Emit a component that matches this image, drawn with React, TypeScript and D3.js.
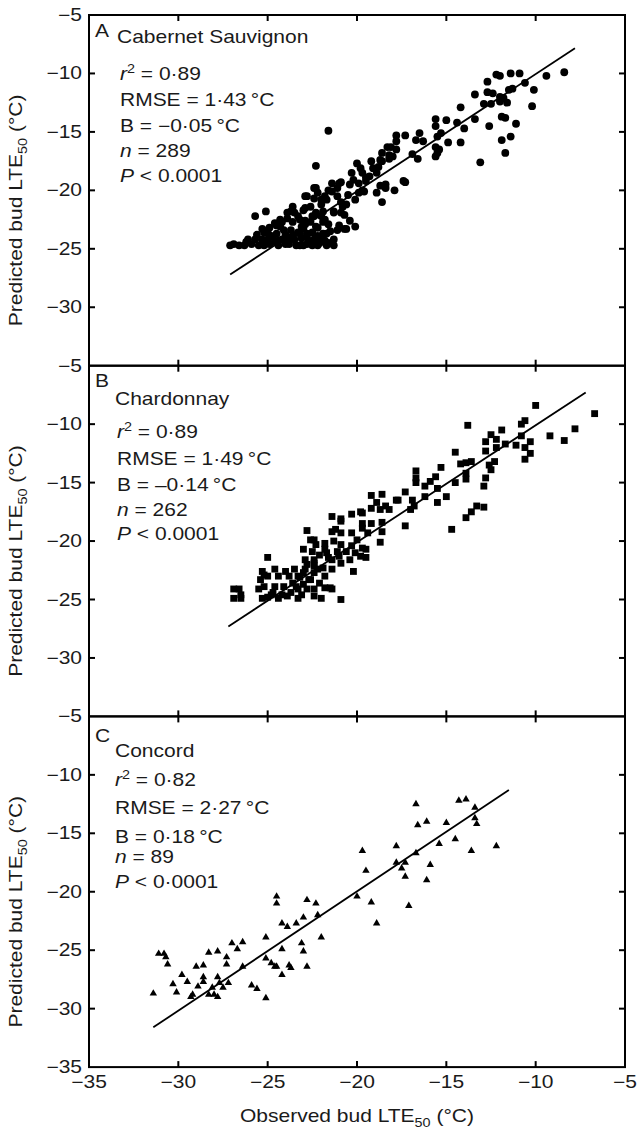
import React from "react";
import * as d3 from "d3";

const cabernetPoints: [number, number][] = [
  [-21.6, -14.9], [-22.3, -17.9], [-22.3, -19.8], [-8.4, -9.9], [-9.4, -10.2], [-10.9, -10.0], [-11.4, -10.0],
  [-12.0, -10.2], [-12.2, -10.1], [-12.7, -10.7], [-10.6, -10.8], [-10.1, -11.4], [-11.3, -11.3], [-11.5, -11.4],
  [-12.7, -11.6], [-12.4, -11.7], [-13.4, -11.8], [-12.0, -12.0], [-11.8, -12.1], [-12.0, -12.4], [-11.6, -12.5],
  [-12.9, -12.6], [-12.5, -12.6], [-10.2, -12.8], [-14.2, -12.9], [-11.9, -13.7], [-11.7, -13.8], [-13.4, -13.9],
  [-11.1, -14.3], [-12.6, -14.5], [-15.6, -13.9], [-15.0, -14.0], [-14.4, -14.2], [-15.6, -14.5], [-14.0, -14.7],
  [-15.5, -15.4], [-15.3, -15.1], [-14.9, -15.9], [-14.2, -15.9], [-11.4, -15.4], [-11.9, -15.7], [-11.7, -16.8],
  [-13.1, -17.6], [-17.8, -15.3], [-17.3, -15.3], [-16.5, -15.1], [-16.7, -15.7], [-16.3, -15.8], [-15.6, -16.3],
  [-15.5, -16.8], [-15.4, -16.5], [-15.6, -17.1], [-17.8, -15.8], [-18.3, -16.3], [-17.8, -16.5], [-18.6, -16.8],
  [-18.0, -17.1], [-16.9, -16.9], [-16.6, -17.3], [-18.6, -17.5], [-18.2, -17.3], [-19.2, -17.5], [-18.8, -18.0],
  [-19.1, -18.1], [-20.0, -17.7], [-19.8, -18.1], [-19.3, -18.8], [-20.3, -18.5], [-19.7, -18.5], [-20.2, -19.1],
  [-20.9, -19.3], [-21.1, -19.8], [-20.4, -19.5], [-19.5, -19.2], [-18.7, -19.6], [-18.4, -19.8], [-18.9, -20.2],
  [-17.9, -20.0], [-17.3, -19.3], [-18.6, -21.0], [-19.6, -20.1], [-19.9, -20.2], [-20.5, -20.4], [-20.1, -20.8],
  [-20.8, -21.4], [-21.4, -20.1], [-21.7, -20.8], [-21.8, -20.5], [-22.2, -20.2], [-22.4, -20.7], [-22.8, -20.5],
  [-22.6, -21.4], [-22.0, -21.2], [-21.3, -21.9], [-20.9, -21.9], [-22.3, -21.9], [-22.9, -21.5], [-22.5, -22.2],
  [-21.9, -22.7], [-21.1, -23.4], [-20.6, -23.3], [-20.1, -23.1], [-21.7, -23.7], [-22.3, -23.1], [-22.4, -24.2],
  [-22.1, -24.5], [-21.6, -24.5], [-23.0, -24.7], [-22.8, -23.7], [-23.2, -22.5], [-23.2, -23.7],
  [-25.7, -22.2], [-25.1, -21.8], [-26.9, -24.6], [-27.1, -24.7], [-26.1, -24.2], [-25.7, -24.2], [-25.3, -23.3],
  [-25.3, -24.2], [-25.0, -24.2], [-24.6, -24.4], [-24.3, -23.1], [-24.5, -23.7], [-24.2, -24.2], [-24.0, -24.6],
  [-23.9, -22.4], [-23.7, -23.4], [-23.5, -21.9], [-23.5, -24.2], [-23.2, -24.7], [-23.0, -21.7], [-22.9, -20.5],
  [-23.1, -23.1], [-22.8, -23.9], [-22.5, -24.7], [-22.4, -22.2], [-22.4, -19.8], [-22.2, -23.2], [-22.0, -24.2],
  [-21.7, -24.7], [-21.8, -22.5], [-22.0, -20.8], [-21.6, -20.0], [-21.3, -21.8], [-21.5, -23.5], [-20.7, -23.3],
  [-20.7, -22.1], [-21.4, -19.4], [-21.0, -19.4], [-21.1, -20.5], [-20.9, -21.0], [-20.6, -21.2], [-19.9, -19.4],
  [-19.7, -20.0], [-19.5, -18.9], [-18.9, -18.5], [-18.7, -17.4], [-18.4, -19.5], [-18.2, -17.0], [-18.1, -16.3],
  [-17.4, -19.2],
  [-26.6, -24.7], [-26.3, -24.7], [-25.9, -24.6], [-25.5, -24.7], [-25.2, -24.7], [-24.9, -24.6], [-24.4, -24.7],
  [-23.8, -24.6], [-23.4, -24.7], [-22.8, -24.6], [-22.2, -24.7], [-21.3, -24.7], [-25.2, -23.6], [-24.8, -23.9],
  [-24.0, -23.8], [-23.8, -24.1], [-23.3, -23.6], [-23.1, -24.1], [-22.5, -23.6], [-21.9, -23.7], [-21.3, -24.2],
  [-22.6, -22.7], [-21.9, -21.8], [-23.6, -22.7], [-24.2, -22.7], [-24.9, -23.2], [-24.5, -23.0], [-26.2, -24.4],
  [-24.3, -22.5], [-23.9, -21.9], [-23.6, -21.4],
  [-25.6, -23.8], [-24.7, -24.0], [-24.1, -23.4], [-23.6, -23.9], [-23.0, -23.3], [-22.7, -24.3], [-22.2, -23.9],
  [-21.8, -24.3], [-23.9, -24.3], [-24.6, -22.8], [-23.3, -22.2], [-22.9, -22.6], [-22.0, -22.2], [-21.6, -22.9],
  [-23.7, -21.8], [-22.9, -22.9], [-24.4, -24.3], [-25.0, -23.6], [-21.0, -23.0], [-20.4, -22.6],
];

const chardonnayPoints: [number, number][] = [
  [-10.0, -8.4], [-6.7, -9.1], [-7.8, -10.4], [-8.4, -11.4], [-9.2, -11.0], [-10.6, -9.7], [-10.8, -10.0],
  [-10.8, -11.0], [-10.3, -11.5], [-10.6, -12.0], [-10.3, -12.5], [-10.6, -13.0], [-11.1, -11.8], [-11.7, -11.7],
  [-11.9, -10.5], [-12.5, -10.9], [-12.8, -11.5], [-12.2, -11.3], [-12.2, -12.0], [-12.8, -12.3], [-12.3, -13.2],
  [-12.6, -13.5], [-12.5, -13.9], [-12.8, -14.6], [-12.9, -15.3], [-13.8, -10.1], [-14.5, -12.4], [-13.9, -13.3],
  [-14.2, -13.4], [-13.6, -13.2], [-13.9, -14.2], [-13.9, -14.7], [-14.5, -15.0], [-15.3, -13.7], [-16.7, -14.0],
  [-16.7, -14.6], [-16.7, -15.0], [-15.6, -14.5], [-15.9, -14.9], [-16.2, -15.3], [-15.5, -15.5], [-16.2, -16.2],
  [-15.0, -16.2], [-15.5, -16.7], [-17.3, -15.8], [-17.7, -16.5], [-16.9, -16.5], [-17.0, -17.3], [-16.8, -17.0],
  [-17.3, -18.7], [-14.7, -19.0], [-12.9, -17.1], [-13.3, -17.0], [-13.6, -17.5], [-13.9, -18.0],
  [-19.2, -16.1], [-18.6, -16.0], [-17.8, -16.5], [-18.9, -16.7], [-19.7, -17.6], [-19.2, -17.2], [-20.3, -17.7],
  [-18.7, -17.3], [-18.2, -17.3], [-19.7, -18.5], [-19.2, -18.5], [-18.6, -18.4], [-21.4, -17.9], [-20.9, -18.3],
  [-21.4, -19.2], [-20.9, -19.3], [-20.3, -19.3], [-20.0, -19.9], [-19.4, -19.3], [-18.6, -19.2], [-18.7, -20.1],
  [-22.8, -19.1], [-22.6, -19.9], [-22.3, -20.3], [-21.8, -20.2], [-21.3, -20.0], [-20.9, -20.3], [-20.3, -20.4],
  [-19.7, -20.6], [-19.5, -20.7], [-20.6, -20.9], [-21.1, -20.9], [-21.7, -21.0], [-22.1, -21.2], [-23.0, -20.7],
  [-19.8, -21.3], [-19.5, -21.4], [-20.4, -21.6], [-20.9, -21.9], [-21.4, -21.6], [-20.2, -22.6], [-22.4, -21.9],
  [-22.8, -22.0], [-21.9, -22.3], [-21.4, -22.4], [-22.4, -22.7], [-23.0, -22.7], [-21.8, -23.0], [-22.6, -23.3],
  [-22.1, -23.6], [-23.2, -23.1], [-21.5, -24.0], [-22.4, -24.1], [-22.8, -24.1], [-22.0, -24.9], [-22.4, -24.7],
  [-20.9, -25.0],
  [-19.8, -17.5], [-18.4, -17.0], [-20.9, -18.1], [-21.2, -19.0], [-19.7, -18.9], [-22.4, -19.9], [-22.5, -20.9],
  [-21.8, -20.7], [-21.6, -21.4], [-21.0, -21.3], [-20.1, -21.0], [-25.0, -21.4], [-22.9, -21.6], [-22.4, -21.6],
  [-22.9, -22.4], [-22.2, -22.4], [-23.5, -22.4], [-24.0, -22.6], [-24.6, -22.4], [-25.3, -22.6], [-25.4, -23.3],
  [-25.0, -23.0], [-24.4, -23.0], [-23.8, -23.0], [-23.3, -23.0], [-22.7, -23.3], [-25.2, -23.9], [-24.6, -23.9],
  [-24.1, -23.9], [-23.6, -23.6], [-23.0, -23.7], [-21.8, -24.0], [-25.5, -24.1], [-24.8, -24.6], [-24.2, -24.6],
  [-23.7, -24.4], [-23.1, -24.6], [-25.3, -24.9], [-25.0, -24.8], [-24.4, -24.9], [-23.3, -24.9], [-26.9, -24.1],
  [-26.5, -24.6], [-26.9, -24.9], [-21.4, -24.1], [-23.3, -24.1], [-26.6, -24.1], [-26.5, -24.9], [-25.2, -22.9],
  [-24.7, -24.4], [-23.9, -24.7], [-23.4, -23.9], [-22.4, -22.1],
];

const concordPoints: [number, number][] = [
  [-31.4, -28.7], [-31.1, -25.3], [-30.8, -25.3], [-30.7, -25.6], [-30.6, -26.2], [-30.3, -27.9], [-30.1, -28.6],
  [-29.8, -27.1], [-29.5, -27.7], [-29.3, -29.0], [-29.2, -28.8], [-29.0, -26.4], [-28.9, -28.1], [-28.6, -26.3],
  [-28.6, -27.3], [-28.6, -27.7], [-28.3, -25.2], [-28.3, -28.8], [-28.1, -28.2], [-28.0, -28.8], [-27.8, -27.3],
  [-27.8, -25.1], [-27.8, -29.0], [-27.7, -27.8], [-27.5, -28.2], [-27.3, -25.6], [-27.3, -26.2], [-27.2, -27.8],
  [-27.0, -24.4], [-26.7, -24.9], [-26.4, -24.3], [-26.4, -26.4], [-25.9, -28.0], [-25.6, -28.3], [-25.1, -23.9],
  [-25.1, -25.7], [-25.1, -29.1], [-24.8, -26.1], [-24.6, -26.4], [-24.5, -20.4], [-24.5, -21.0], [-24.5, -26.4],
  [-24.2, -24.9], [-24.2, -27.1], [-24.2, -22.7], [-23.9, -23.0], [-23.8, -26.3], [-23.7, -26.5], [-23.4, -22.7],
  [-23.1, -24.4], [-23.0, -22.2], [-23.0, -25.1], [-22.8, -26.4], [-22.8, -20.7], [-22.3, -21.0], [-22.2, -22.0],
  [-22.0, -23.9],
  [-20.0, -20.4], [-19.7, -16.5], [-19.5, -18.2], [-19.2, -20.9], [-18.9, -22.7], [-17.8, -16.1], [-17.8, -17.5],
  [-17.5, -18.0], [-17.3, -17.5], [-17.3, -18.7], [-17.1, -21.2], [-16.7, -12.5], [-16.7, -16.7], [-16.6, -14.3],
  [-16.1, -14.0], [-16.1, -19.0], [-15.9, -17.7], [-15.4, -15.9], [-15.0, -14.1], [-14.5, -15.5], [-14.3, -12.2],
  [-13.9, -12.1], [-13.6, -16.5], [-13.4, -12.8], [-13.4, -13.7], [-13.3, -14.2], [-12.2, -16.1],
];

// fitted line end points [x0, x1], [y0, y1]
const fitX: [number, number][] = [[-27.1, -7.8], [-27.2, -7.2], [-31.4, -11.5]];
const fitY: [number, number][] = [[-27.2, -7.85], [-27.3, -7.3], [-31.6, -11.3]];

const panelLetters = ["A", "B", "C"];
const cultivars = ["Cabernet Sauvignon", "Chardonnay", "Concord"];
const r2Text = ["0·89", "0·89", "0·82"];
const rmseText = ["1·43", "1·49", "2·27"];
const biasText = ["\u22120·05", "\u20130·14", "0·18"];
const nText = ["289", "262", "89"];
const pText = ["0.0001", "0.0001", "0·0001"];

const axisTicks = [-35, -30, -25, -20, -15, -10, -5];
const innerTicks = [-30, -25, -20, -15, -10];

const W = 638;
const H = 1130;
const left = 89;
const right = 625;
const top = 15;
const panelH = 350.7;
const FONT = "'Liberation Sans', Arial, Helvetica, sans-serif";
const FS = 17.5;
const SX = 1.2; // glyphs in the figure run wider than Arial
const TICK = 6;

const fmt = (v: number) => (v < 0 ? "\u2212" + Math.abs(v) : String(v));

function T({ x, y, anchor = "start", rotate = false, children }: any) {
  return (
    <g transform={`translate(${x},${y})${rotate ? " rotate(-90)" : ""} scale(${SX},1)`}>
      <text textAnchor={anchor} fontFamily={FONT} fontSize={FS} fill="#1a1a1a">
        {children}
      </text>
    </g>
  );
}

const pointSets = [cabernetPoints, chardonnayPoints, concordPoints];
const symbols = [
  d3.symbol().type(d3.symbolCircle).size(48)(),
  d3.symbol().type(d3.symbolSquare).size(47)(),
  d3.symbol().type(d3.symbolTriangle).size(24)(),
];
const titleX = [117, 115, 115];
const statsX = [120, 117, 115];
// baselines relative to panel top
const letterDy = [22, 21, 26];
const titleDy = [28, 39, 41];
const statDy = [
  [65, 91, 117, 142, 167],
  [72, 99, 125, 150, 174],
  [70, 98, 127, 147, 172],
];

function Panel({ i }: { i: number }) {
  const y0 = top + i * panelH;
  const x = d3.scaleLinear().domain([-35, -5]).range([left, right]);
  const y = d3.scaleLinear().domain([-35, -5]).range([y0 + panelH, y0]);
  const fitLine = d3.line<number>()
    .x((_, k) => x(fitX[i][k]))
    .y((_, k) => y(fitY[i][k]));
  const labels = i === 2 ? axisTicks : axisTicks.slice(1);
  const sub = (
    <>
      <tspan dy={5} fontSize={12}>50</tspan>
      <tspan dy={-5}> (°C)</tspan>
    </>
  );
  return (
    <g>
      {/* points */}
      {pointSets[i].map((d, k) => (
        <path key={k} d={symbols[i] as string} transform={`translate(${x(d[0])},${y(d[1])})`} fill="#000" />
      ))}
      <path d={fitLine([0, 1]) as string} stroke="#000" strokeWidth={1.8} fill="none" />

      {/* frame and inward ticks */}
      <rect x={left} y={y0} width={right - left} height={panelH} fill="none" stroke="#000" strokeWidth={2} />
      {innerTicks.map((t) => (
        <g key={t} stroke="#000" strokeWidth={2}>
          <line x1={x(t)} x2={x(t)} y1={y0} y2={y0 + TICK} />
          <line x1={x(t)} x2={x(t)} y1={y0 + panelH} y2={y0 + panelH - TICK} />
          <line x1={left} x2={left + TICK} y1={y(t)} y2={y(t)} />
          <line x1={right} x2={right - TICK} y1={y(t)} y2={y(t)} />
        </g>
      ))}
      {labels.map((t) => (
        <T key={t} x={82} y={y(t) + 6} anchor="end">{fmt(t)}</T>
      ))}
      <T x={22} y={y0 + panelH / 2 + 20} anchor="middle" rotate>
        Predicted bud LTE{sub}
      </T>

      {/* annotations */}
      <T x={95} y={y0 + letterDy[i]}>{panelLetters[i]}</T>
      <T x={titleX[i]} y={y0 + titleDy[i]}>{cultivars[i]}</T>
      <T x={statsX[i]} y={y0 + statDy[i][0]}>
        <tspan fontStyle="italic">r</tspan>
        <tspan dy={-7} fontSize={12}>2</tspan>
        <tspan dy={7}> = {r2Text[i]}</tspan>
      </T>
      <T x={statsX[i]} y={y0 + statDy[i][1]}>RMSE = {rmseText[i]}{"\u2009"}°C</T>
      <T x={statsX[i]} y={y0 + statDy[i][2]}>B = {biasText[i]}{"\u2009"}°C</T>
      <T x={statsX[i]} y={y0 + statDy[i][3]}>
        <tspan fontStyle="italic">n</tspan> = {nText[i]}
      </T>
      <T x={statsX[i]} y={y0 + statDy[i][4]}>
        <tspan fontStyle="italic">P</tspan> {"<"} {pText[i]}
      </T>

      {i === 2 &&
        axisTicks.map((t) => (
          <T key={"x" + t} x={x(t)} y={y0 + panelH + 21} anchor="middle">{fmt(t)}</T>
        ))}
      {i === 2 && (
        <T x={(left + right) / 2} y={1122} anchor="middle">
          Observed bud LTE{sub}
        </T>
      )}
    </g>
  );
}

export default function App() {
  return (
    <svg
      width={W}
      height={H}
      viewBox={`0 0 ${W} ${H}`}
      style={{ position: "absolute", left: 0, top: 0, background: "#fff" }}
    >
      <rect width={W} height={H} fill="#fff" />
      {[0, 1, 2].map((i) => (
        <Panel key={i} i={i} />
      ))}
    </svg>
  );
}
